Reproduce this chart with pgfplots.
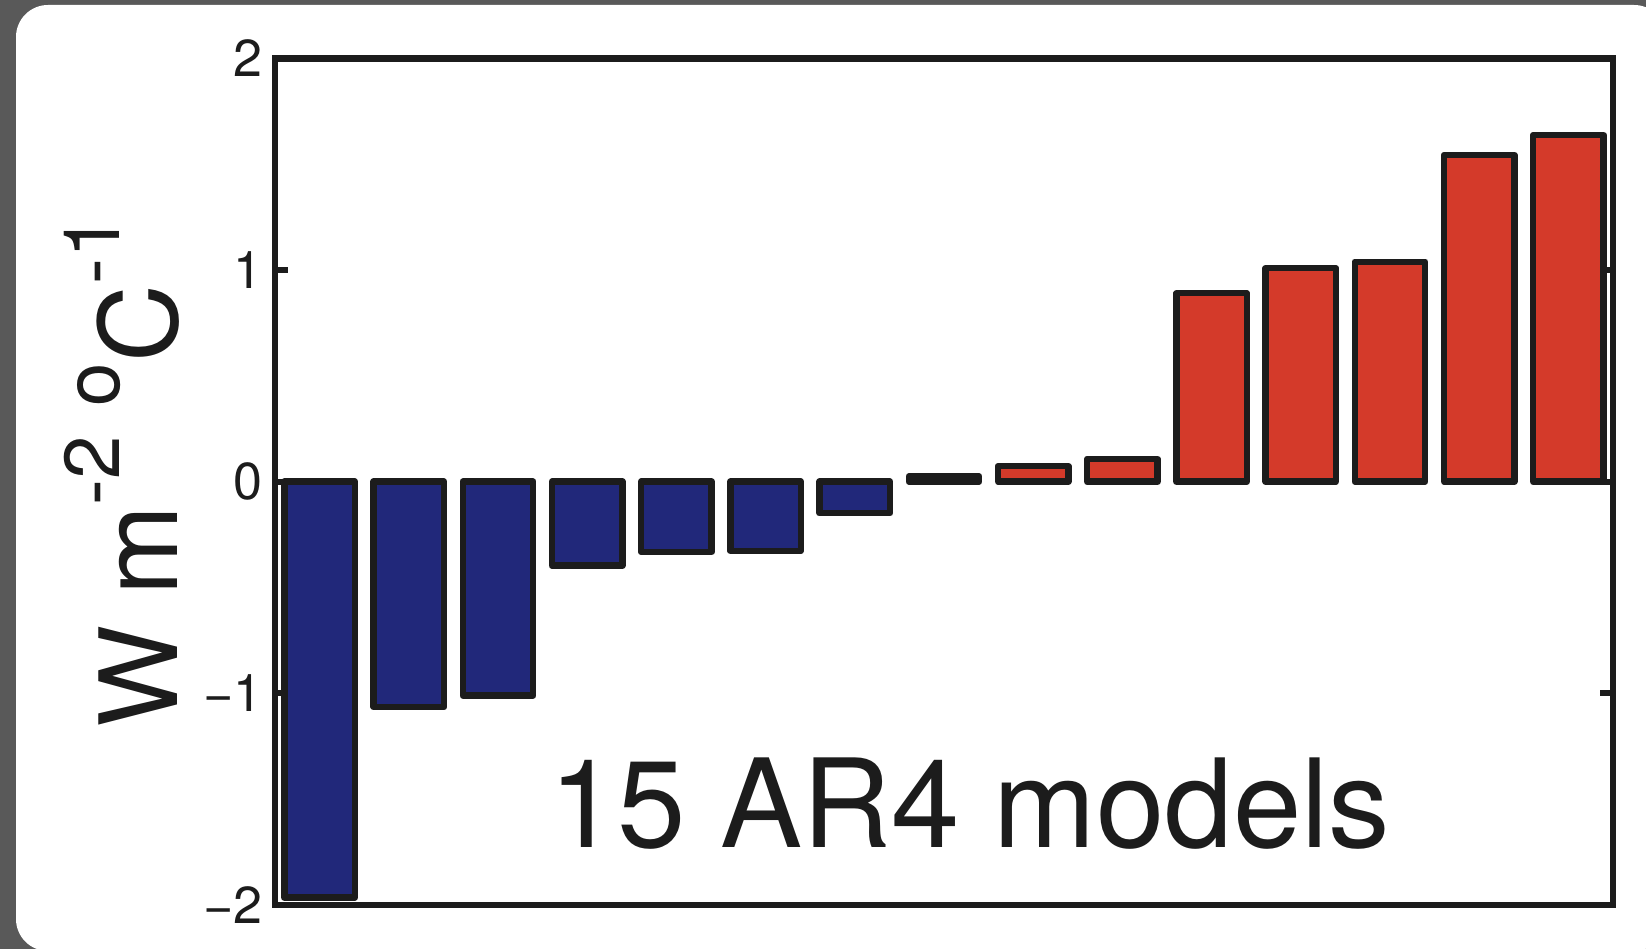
\documentclass[border=0pt]{standalone}
\usepackage{fontspec}
\setmainfont{TeX Gyre Heros}
\usepackage{pgfplots}
\pgfplotsset{compat=1.18}
\definecolor{bgray}{HTML}{595959}
\definecolor{edge}{HTML}{1C1C1C}
\definecolor{barblue}{HTML}{21287A}
\definecolor{barred}{HTML}{D43A2A}
\newcommand{\sups}[1]{\raisebox{29pt}{\fontsize{39}{39}\selectfont #1}}
\begin{document}
\begin{tikzpicture}
\useasboundingbox (0,0) rectangle (823pt,474.5pt);
\fill[bgray] (0,0) rectangle (823pt,474.5pt);
\fill[white, rounded corners=16pt] (8pt,-1pt) rectangle (833pt,472pt);
\begin{axis}[
  at={(137.5pt,22pt)}, anchor=south west,
  scale only axis, width=669pt, height=423.35pt,
  xmin=0.5, xmax=15.5, ymin=-2, ymax=2,
  ybar, bar shift=0pt, bar width=0.79,
  xtick=\empty,
  ytick={-2,-1,0,1,2},
  yticklabels={−2,−1,0,1,2},
  ytick pos=both, tick align=inside,
  major tick length=6.5pt,
  tick style={line width=3pt, color=edge},
  axis line style={line width=3.2pt, color=edge},
  yticklabel style={font=\fontsize{26}{26}\selectfont, inner sep=0pt, xshift=-6pt, text=edge},
  ylabel={W m\sups{-2} \sups{o}C\sups{-1}},
  ylabel style={at={(axis description cs:-0.0732,0.512)}, anchor=base, font=\fontsize{54}{54}\selectfont, text=edge},
]
\addplot[fill=barblue, draw=edge, line width=3.2pt, line join=round] coordinates {
(1,-1.965) (2,-1.065) (3,-1.01) (4,-0.397) (5,-0.332) (6,-0.327) (7,-0.149)};
\addplot[fill=barred, draw=edge, line width=3.2pt, line join=round] coordinates {
(8,0.025) (9,0.073) (10,0.107) (11,0.89) (12,1.008) (13,1.039) (14,1.543) (15,1.637)};
\node[anchor=base, font=\fontsize{61.5}{61.5}\selectfont, text=edge] at (axis cs:8.29,-1.73) {15 AR4 models};
\end{axis}
\end{tikzpicture}
\end{document}
